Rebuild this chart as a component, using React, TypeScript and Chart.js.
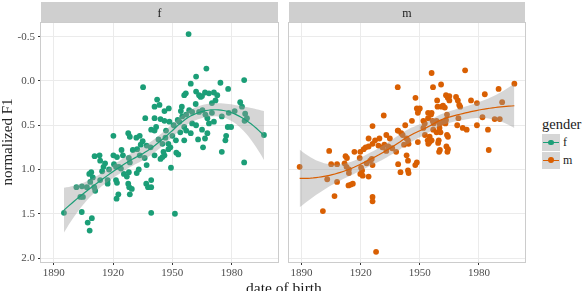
import React, { useEffect, useRef } from "react";
import { Chart, registerables } from "chart.js";

Chart.register(...registerables);

// ---- data -------------------------------------------------------------
const panelLabels = ["f", "m"];
const legendTitle = "gender";
const xTitle = "date of birth";
const yTitle = "normalized F1";
const xTicks = [1890, 1920, 1950, 1980];
const yTicks = [-0.5, 0, 0.5, 1, 1.5, 2];

const fYears = [
  1958.2, 1967.2, 1935.2, 1959.3, 1962, 1974.3, 1986.3, 1978.2, 1956.8, 1956,
  1962, 1963.5, 1964.3, 1965, 1966.5, 1968.5, 1971, 1971.8, 1972.7, 1942.3,
  1941, 1943.5, 1948.2, 1946, 1952.7, 1954.3, 1954.8, 1958.5, 1960, 1961.8,
  1963.5, 1965.2, 1966.7, 1970, 1970, 1971, 1967.7, 1968.5, 1975, 1978.5,
  1981.5, 1984.3, 1985.2, 1986.8, 1987.7, 1986.5, 1996.3, 1978, 1979.7, 1977.2,
  1976.8, 1936.3, 1941, 1944, 1946, 1948.5, 1955, 1957,
  1941.8, 1939.3, 1941, 1946.8, 1950.7, 1953.5, 1956, 1957, 1954, 1959.3,
  1960, 1962, 1965, 1967.7, 1963, 1966.5, 1965.5, 1920.2, 1927.7, 1928.5,
  1931.8, 1933.5, 1935, 1924.3, 1932.2, 1937, 1939, 1945, 1948, 1946.5,
  1951.8, 1949, 1956, 1950, 1943,
  1895.2, 1901.5, 1904.3, 1904.2, 1904.8, 1903.5, 1907.2, 1909.3, 1908.2, 1906.8,
  1908.5, 1908, 1909, 1909.8, 1911, 1910.5, 1910.7, 1913.2, 1913.5, 1915.2,
  1914.5, 1913.5, 1917.3, 1917.3, 1920.2, 1922, 1925, 1928, 1920.5, 1921.5,
  1921.5, 1922, 1922.7, 1921.8, 1923, 1924, 1925.5, 1927, 1928, 1927.7,
  1928.2, 1928.5, 1929.5, 1928.5, 1932, 1933, 1937, 1933.5, 1936, 1941,
  1936.8, 1937.7, 1939.3, 1939.3, 1939.3, 1944, 1945, 1946, 1945.5, 1948,
  1949.3, 1951.3, 1952, 1953, 1975, 1986.3, 1918, 1916, 1930, 1934,
];
const fValues = [
  -0.53, -0.14, 0.07, 0.03, -0.05, 0.02, -0.01, 0.09, 0.14, 0.16,
  0.12, 0.16, 0.18, 0.17, 0.13, 0.14, 0.13, 0.22, 0.16, 0.21,
  0.29, 0.27, 0.31, 0.34, 0.44, 0.34, 0.29, 0.33, 0.35, 0.26,
  0.35, 0.33, 0.38, 0.25, 0.36, 0.46, 0.42, 0.48, 0.4, 0.36,
  0.34, 0.24, 0.29, 0.37, 0.42, 0.45, 0.61, 0.52, 0.52, 0.62,
  0.67, 0.42, 0.42, 0.43, 0.45, 0.46, 0.4, 0.38,
  0.52, 0.55, 0.56, 0.56, 0.5, 0.46, 0.52, 0.56, 0.58, 0.59,
  0.48, 0.5, 0.55, 0.59, 0.66, 0.65, 0.75, 0.62, 0.59, 0.63,
  0.64, 0.62, 0.68, 0.78, 0.77, 0.73, 0.75, 0.71, 0.71, 0.64,
  0.67, 0.75, 0.67, 0.62, 0.66,
  1.49, 1.2, 1.19, 1.48, 1.31, 1.31, 1.6, 1.55, 1.69, 1.2,
  1.14, 1.05, 1.03, 1.09, 1.24, 1.2, 0.85, 0.84, 0.9, 0.97,
  1.02, 1.12, 1.12, 1.16, 0.84, 0.86, 0.84, 0.87, 0.94, 0.97,
  1.12, 1.15, 1.28, 1.33, 0.97, 0.99, 1.05, 1.08, 1.03, 1.16,
  1.2, 1.28, 1.22, 0.92, 1.04, 1.0, 0.95, 0.84, 0.87, 0.84,
  1.16, 1.2, 1.2, 1.12, 1.49, 0.88, 0.86, 0.84, 0.8, 0.77,
  0.98, 1.5, 0.81, 0.83, 0.8, 0.92, 1.0, 0.93, 0.78, 0.72,
];

const mYears = [
  1956, 1973, 1998, 1990, 1983, 1938.8, 1956.7, 1960.8, 1947.8, 1958.8,
  1963.3, 1965, 1964.2, 1965, 1968.4, 1969.3, 1970, 1970.5, 1976, 1979,
  1991.8, 1948.5, 1949.3, 1949, 1950, 1954.2, 1956, 1955.7, 1954.2, 1959,
  1961, 1961.8, 1962.7, 1946, 1942.6, 1951.8, 1952.5, 1951.8, 1956.5, 1957,
  1958.5, 1960, 1961.5, 1963, 1956.8, 1958.5, 1960, 1963.3, 1963.8, 1969.6,
  1969, 1971.8, 1973.8, 1979, 1981.8, 1984.6, 1988, 1990.6, 1952.6, 1955,
  1954, 1956, 1960.5, 1963.8, 1964.3, 1959.6, 1943.3, 1944, 1949, 1931.7,
  1926, 1924, 1927.3, 1929.5, 1933, 1934.8, 1939, 1940.6, 1938.8, 1941.3,
  1944.3, 1954.3, 1955, 1959.3, 1959.8, 1960.2, 1963.5, 1964.3, 1964, 1985,
  1943.3, 1944, 1944, 1944.3, 1948.5, 1947.7, 1889, 1904, 1905, 1908,
  1903, 1908, 1906.7, 1900.8, 1912.3, 1913, 1911.8, 1912.8, 1914, 1914,
  1913.8, 1915, 1916, 1916.8, 1919.8, 1921.5, 1922.5, 1924, 1926, 1919.5,
  1920.2, 1920.7, 1919.8, 1921, 1924, 1923, 1924.8, 1925.6, 1926, 1926,
  1926, 1927.8, 1929, 1931, 1932, 1934, 1936, 1933, 1939, 1940.2,
  1938, 1942,
];
const mValues = [
  -0.09, -0.12, 0.03, 0.09, 0.15, 0.07, 0.07, 0.04, 0.19, 0.22,
  0.16, 0.17, 0.19, 0.22, 0.18, 0.22, 0.27, 0.29, 0.22, 0.25,
  0.24, 0.31, 0.33, 0.36, 0.31, 0.36, 0.36, 0.38, 0.42, 0.29,
  0.29, 0.28, 0.3, 0.45, 0.5, 0.45, 0.48, 0.53, 0.45, 0.48,
  0.45, 0.48, 0.47, 0.48, 0.55, 0.58, 0.53, 0.44, 0.38, 0.42,
  0.5, 0.53, 0.55, 0.5, 0.41, 0.55, 0.43, 0.43, 0.61, 0.63,
  0.67, 0.67, 0.58, 0.61, 0.63, 0.67, 0.65, 0.67, 0.69, 0.39,
  0.51, 0.65, 0.67, 0.65, 0.61, 0.65, 0.56, 0.59, 0.56, 0.61,
  0.71, 0.71, 0.69, 0.7, 0.8, 0.78, 0.74, 0.77, 0.8, 0.78,
  0.84, 0.9, 1.01, 1.04, 0.92, 0.95, 0.97, 0.79, 0.94, 0.94,
  1.11, 1.14, 1.3, 1.47, 0.85, 0.87, 0.93, 0.97, 1.0, 1.04,
  1.18, 1.17, 1.16, 0.8, 0.8, 0.77, 0.75, 0.74, 0.71, 0.87,
  0.98, 1.01, 1.05, 1.07, 1.08, 0.93, 0.9, 0.88, 0.95, 1.31,
  1.36, 1.93, 0.73, 0.75, 0.72, 0.74, 0.76, 0.79, 0.94, 1.03,
  0.8, 0.72,
];

// ---- look -------------------------------------------------------------
const X_MIN = 1883.6;
const X_MAX = 2003.4;
const Y_MIN = -0.655;
const Y_MAX = 2.045;
const GROUP_COLORS: Record<string, string> = { f: "#1B9E77", m: "#D95F02" };
const RIBBON = "rgba(153,153,153,0.4)";
const SERIF = '"Liberation Serif", "DejaVu Serif", serif';

// ---- loess smoother (span 0.75, local quadratic, tricube weights) ------
function inv3(m: number[][]): number[][] {
  const [a, b, c] = m[0];
  const [d, e, f] = m[1];
  const [g, h, i] = m[2];
  const A = e * i - f * h, B = -(d * i - f * g), C = d * h - e * g;
  const det = a * A + b * B + c * C;
  return [
    [A / det, -(b * i - c * h) / det, (b * f - c * e) / det],
    [B / det, (a * i - c * g) / det, -(a * f - c * d) / det],
    [C / det, -(a * h - b * g) / det, (a * e - b * d) / det],
  ];
}

function operatorRow(xs: number[], x0: number, span: number): number[] {
  const n = xs.length;
  const dist = xs.map((x) => Math.abs(x - x0));
  const sorted = [...dist].sort((p, q) => p - q);
  const q = Math.max(3, Math.floor(n * span));
  const h = Math.max(sorted[q - 1], 1e-9);
  const w = dist.map((d) => {
    const r = d / h;
    return r < 1 ? Math.pow(1 - r * r * r, 3) : 0;
  });
  const s = [
    [0, 0, 0],
    [0, 0, 0],
    [0, 0, 0],
  ];
  for (let k = 0; k < n; k++) {
    const u = (xs[k] - x0) / h;
    const b = [1, u, u * u];
    for (let r = 0; r < 3; r++) for (let c = 0; c < 3; c++) s[r][c] += w[k] * b[r] * b[c];
  }
  const m = inv3(s);
  const c0 = m[0][0], c1 = m[1][0], c2 = m[2][0];
  return xs.map((x, k) => {
    const u = (x - x0) / h;
    return w[k] * (c0 + c1 * u + c2 * u * u);
  });
}

function smooth(xs: number[], ys: number[], span = 0.75, steps = 80) {
  const n = xs.length;
  let rss = 0, trace = 0, frob = 0;
  for (let i = 0; i < n; i++) {
    const row = operatorRow(xs, xs[i], span);
    let fit = 0;
    for (let j = 0; j < n; j++) {
      fit += row[j] * ys[j];
      frob += row[j] * row[j];
    }
    trace += row[i];
    rss += (ys[i] - fit) ** 2;
  }
  const delta1 = n - 2 * trace + frob;
  const sigma = Math.sqrt(rss / delta1);
  const tq = 1.97;
  const lo = Math.min(...xs), hi = Math.max(...xs);
  const fit: { x: number; y: number }[] = [];
  const upper: { x: number; y: number }[] = [];
  const lower: { x: number; y: number }[] = [];
  for (let s = 0; s < steps; s++) {
    const x0 = lo + ((hi - lo) * s) / (steps - 1);
    const row = operatorRow(xs, x0, span);
    let y = 0, ss = 0;
    for (let j = 0; j < n; j++) {
      y += row[j] * ys[j];
      ss += row[j] * row[j];
    }
    const se = sigma * Math.sqrt(ss);
    fit.push({ x: x0, y });
    upper.push({ x: x0, y: y - tq * se });
    lower.push({ x: x0, y: y + tq * se });
  }
  return { fit, upper, lower };
}

// ---- facet strip + panel border --------------------------------------
const facetPlugin = {
  id: "facet",
  beforeDraw(chart: any, _args: any, opts: any) {
    const { ctx, chartArea } = chart;
    const { left, right, top, bottom } = chartArea;
    ctx.save();
    ctx.fillStyle = "#ffffff";
    ctx.fillRect(left, top, right - left, bottom - top);
    ctx.fillStyle = "#cfcfcf";
    ctx.fillRect(left, 2, right - left, top - 2);
    ctx.fillStyle = "#1a1a1a";
    ctx.font = `12px ${SERIF}`;
    ctx.textAlign = "center";
    ctx.textBaseline = "middle";
    ctx.fillText(opts.label, (left + right) / 2, (2 + top) / 2 + 1);
    ctx.restore();
  },
  afterDraw(chart: any) {
    const { ctx, chartArea } = chart;
    const { left, right, top, bottom } = chartArea;
    ctx.save();
    ctx.strokeStyle = "#cccccc";
    ctx.lineWidth = 1;
    ctx.strokeRect(Math.round(left) - 0.5, Math.round(top) - 0.5, Math.round(right - left) + 1, Math.round(bottom - top) + 1);
    ctx.restore();
  },
};

type PanelProps = {
  label: string;
  years: number[];
  values: number[];
  showY: boolean;
  left: number;
  width: number;
};

function Panel({ label, years, values, showY, left, width }: PanelProps) {
  const ref = useRef<HTMLCanvasElement>(null);

  useEffect(() => {
    const canvas = ref.current;
    if (!canvas) return;
    const color = GROUP_COLORS[label];
    const band = smooth(years, values);
    const points = years.map((x, i) => ({ x, y: values[i] }));
    const tickFont = { family: SERIF, size: 11 };

    const chart = new Chart(canvas, {
      type: "scatter",
      data: {
        datasets: [
          {
            type: "line",
            data: band.fit,
            borderColor: color,
            borderWidth: 1.2,
            pointRadius: 0,
            fill: false,
            tension: 0,
            order: 0,
          } as any,
          {
            type: "line",
            data: band.upper,
            borderColor: "transparent",
            borderWidth: 0,
            pointRadius: 0,
            backgroundColor: RIBBON,
            fill: "+1",
            order: 1,
          } as any,
          {
            type: "line",
            data: band.lower,
            borderColor: "transparent",
            borderWidth: 0,
            pointRadius: 0,
            fill: false,
            order: 1,
          } as any,
          {
            type: "scatter",
            data: points,
            pointRadius: 2.9,
            pointBackgroundColor: color,
            pointBorderWidth: 0,
            order: 2,
          } as any,
        ],
      },
      options: {
        animation: false,
        responsive: false,
        maintainAspectRatio: false,
        events: [],
        layout: { padding: { left: showY ? 0 : 2, right: 2, top: 23, bottom: 0 } },
        plugins: {
          legend: { display: false },
          tooltip: { enabled: false },
          facet: { label },
        } as any,
        scales: {
          x: {
            type: "linear",
            min: X_MIN,
            max: X_MAX,
            bounds: "data",
            afterBuildTicks: (axis: any) => {
              axis.ticks = xTicks.map((v) => ({ value: v }));
            },
            afterFit: (axis: any) => {
              axis.height = 29;
            },
            grid: { color: "#ebebeb", lineWidth: 1, drawTicks: true, tickLength: 3, tickColor: "#333333" },
            border: { display: false },
            ticks: {
              font: tickFont,
              color: "#4d4d4d",
              padding: 2,
              maxRotation: 0,
              autoSkip: false,
              callback: (v: any) => String(v),
            },
          },
          y: {
            type: "linear",
            reverse: true,
            min: Y_MIN,
            max: Y_MAX,
            bounds: "data",
            afterBuildTicks: (axis: any) => {
              axis.ticks = yTicks.map((v) => ({ value: v }));
            },
            afterFit: (axis: any) => {
              axis.width = showY ? 41 : 0;
            },
            grid: { color: "#ebebeb", lineWidth: 1, drawTicks: showY, tickLength: 3, tickColor: "#333333" },
            border: { display: false },
            ticks: {
              display: showY,
              font: tickFont,
              color: "#4d4d4d",
              padding: 3,
              autoSkip: false,
              callback: (v: any) => Number(v).toFixed(1),
            },
          },
        },
      },
      plugins: [facetPlugin],
    });
    return () => chart.destroy();
  }, [label, years, values, showY]);

  return (
    <canvas
      ref={ref}
      width={width}
      height={291}
      style={{ position: "absolute", left, top: 0, width, height: 291 }}
    />
  );
}

function LegendKey({ color, top, text }: { color: string; top: number; text: string }) {
  return (
    <>
      <div style={{ position: "absolute", left: 542, top, width: 18, height: 17, background: "#d6d6d6" }}>
        <div style={{ position: "absolute", left: 1, right: 1, top: 8, height: 1.2, background: color }} />
        <div
          style={{
            position: "absolute",
            left: 6.1,
            top: 5.6,
            width: 5.8,
            height: 5.8,
            borderRadius: "50%",
            background: color,
          }}
        />
      </div>
      <div
        style={{
          position: "absolute",
          left: 563,
          top: top + 1,
          font: `12px ${SERIF}`,
          color: "#1a1a1a",
          lineHeight: "15px",
        }}
      >
        {text}
      </div>
    </>
  );
}

export default function App() {
  return (
    <div
      style={{
        position: "fixed",
        left: 0,
        top: 0,
        width: 586,
        height: 291,
        background: "#ffffff",
        overflow: "hidden",
      }}
    >
      <Panel label={panelLabels[0]} years={fYears} values={fValues} showY={true} left={0} width={282} />
      <Panel label={panelLabels[1]} years={mYears} values={mValues} showY={false} left={285} width={244} />
      <div
        style={{
          position: "absolute",
          left: 7 - 100,
          top: 142 - 8,
          width: 200,
          height: 16,
          lineHeight: "16px",
          textAlign: "center",
          font: `15px ${SERIF}`,
          color: "#1a1a1a",
          transform: "rotate(-90deg)",
          transformOrigin: "center",
          whiteSpace: "nowrap",
        }}
      >
        {yTitle}
      </div>
      <div
        style={{
          position: "absolute",
          left: 284 - 100,
          top: 279,
          width: 200,
          textAlign: "center",
          font: `15.5px ${SERIF}`,
          lineHeight: "17px",
          color: "#1a1a1a",
          whiteSpace: "nowrap",
        }}
      >
        {xTitle}
      </div>
      <div
        style={{
          position: "absolute",
          left: 542,
          top: 116,
          font: `14.5px ${SERIF}`,
          lineHeight: "16px",
          color: "#1a1a1a",
        }}
      >
        {legendTitle}
      </div>
      <LegendKey color={GROUP_COLORS.f} top={134} text={panelLabels[0]} />
      <LegendKey color={GROUP_COLORS.m} top={151.5} text={panelLabels[1]} />
    </div>
  );
}
